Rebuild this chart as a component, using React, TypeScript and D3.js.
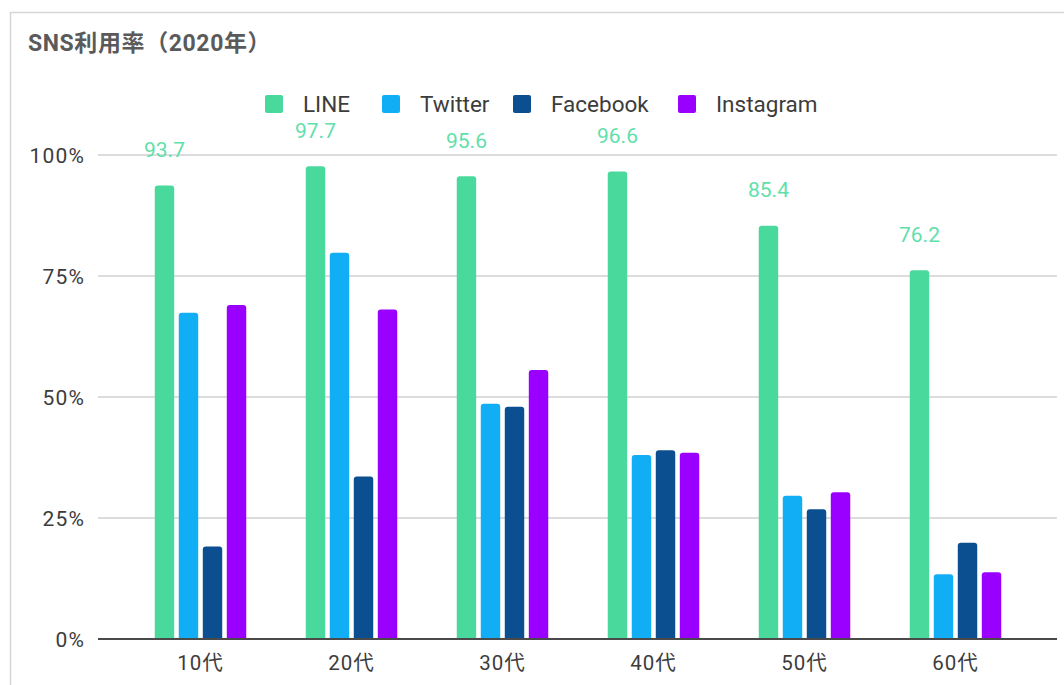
import React from "react";
import * as d3 from "d3";

// Age groups on the x axis
const categories = ["10代", "20代", "30代", "40代", "50代", "60代"];
// Services, in legend / bar order
const seriesNames = ["LINE", "Twitter", "Facebook", "Instagram"];
const seriesColors = ["#4ad99d", "#12aef5", "#0b4f91", "#9900ff"];
// Usage rate (%) per service, one value per age group
const lineValues = [93.7, 97.7, 95.6, 96.6, 85.4, 76.2];
const twitterValues = [67.4, 79.8, 48.6, 38.0, 29.6, 13.4];
const facebookValues = [19.1, 33.6, 48.0, 39.0, 26.8, 19.9];
const instagramValues = [69.0, 68.1, 55.6, 38.5, 30.3, 13.8];
const yTicks = [0, 25, 50, 75, 100];
const title = "SNS利用率（2020年）";

const W = 1064;
const H = 685;
const FONT = "Roboto, 'Noto Sans CJK JP', sans-serif";

function topRoundedBar(x: number, y: number, w: number, h: number, r: number) {
  const rr = Math.min(r, h, w / 2);
  return `M${x},${y + h}V${y + rr}Q${x},${y} ${x + rr},${y}H${x + w - rr}Q${x + w},${y} ${x + w},${y + rr}V${y + h}Z`;
}

export default function App() {
  const values = [lineValues, twitterValues, facebookValues, instagramValues];

  const gridLeft = 98;
  const gridRight = 1057;
  const y = d3.scaleLinear().domain([0, 100]).range([639, 155]);
  const x0 = d3.scaleBand<string>().domain(categories).range([125, 1031]).padding(0);
  const x1 = d3
    .scaleBand<string>()
    .domain(seriesNames)
    .range([-45.75, 45.75])
    .paddingInner(0.19)
    .paddingOuter(0);

  // Legend layout
  const legendY = 104;
  const swatch = 18;
  const legendX = [265, 382, 513, 678];

  return (
    <div style={{ position: "absolute", left: 0, top: 0 }}>
      <svg width={W} height={H} style={{ display: "block", background: "#fff" }} fontFamily={FONT}>
        <rect x={0} y={0} width={W} height={H} fill="#fff" />
        {/* card outline */}
        <path d={`M10.5,${H + 2}V12.5H${W + 2}`} fill="none" stroke="#d6d6d6" strokeWidth={1.5} />

        <text x={28} y={51} fontSize={23} fontWeight="bold" fill="#5a5a5a" letterSpacing={0.6}>
          {title}
        </text>

        {/* legend */}
        {seriesNames.map((name, i) => (
          <g key={name}>
            <rect
              x={legendX[i]}
              y={legendY - swatch / 2}
              width={swatch}
              height={swatch}
              rx={2}
              fill={seriesColors[i]}
            />
            <text x={legendX[i] + swatch + 20} y={legendY} dy="0.36em" fontSize={22.5} fill="#3c3c3c">
              {name}
            </text>
          </g>
        ))}

        {/* gridlines + y labels */}
        {yTicks.map((t) => (
          <g key={t}>
            {t !== 0 && (
              <line x1={gridLeft} x2={gridRight} y1={y(t)} y2={y(t)} stroke="#d0d0d0" strokeWidth={1.5} />
            )}
            <text
              x={85}
              y={y(t)}
              dy="0.36em"
              textAnchor="end"
              fontSize={21}
              letterSpacing={1.2}
              fill="#3c3c3c"
            >
              {`${t}%`}
            </text>
          </g>
        ))}

        {/* bars */}
        {categories.map((c, ci) => {
          const cx = (x0(c) as number) + x0.bandwidth() / 2;
          return (
            <g key={c}>
              {seriesNames.map((s, si) => {
                const v = values[si][ci];
                const bx = cx + (x1(s) as number);
                const by = y(v);
                return (
                  <path
                    key={s}
                    d={topRoundedBar(bx, by, x1.bandwidth(), y(0) - by, 3)}
                    fill={seriesColors[si]}
                  />
                );
              })}
              {/* value label for LINE */}
              <text
                x={cx + (x1("LINE") as number) + x1.bandwidth() / 2}
                y={y(lineValues[ci]) - 36}
                dy="0.36em"
                textAnchor="middle"
                fontSize={21}
                fill="#5fe0aa"
              >
                {lineValues[ci].toFixed(1)}
              </text>
              <text
                x={cx}
                y={663}
                dy="0.36em"
                textAnchor="middle"
                fontSize={20.5}
                letterSpacing={1}
                fill="#3c3c3c"
              >
                {c}
              </text>
            </g>
          );
        })}

        {/* baseline */}
        <line x1={gridLeft} x2={gridRight} y1={y(0)} y2={y(0)} stroke="#4a4a4a" strokeWidth={2} />
      </svg>
    </div>
  );
}
